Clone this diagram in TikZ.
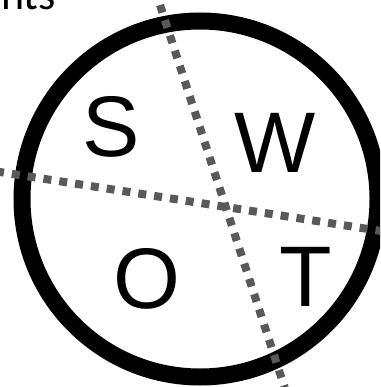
\documentclass[tikz,border=0pt]{standalone}
\usepackage{fontspec}
\setmainfont{Liberation Sans}
\newfontfamily\headfont{Carlito}
\usetikzlibrary{positioning}
\definecolor{ringcol}{gray}{0}
\definecolor{splitcol}{RGB}{89, 89, 89}

\begin{document}
\begin{tikzpicture}[x=1pt, y=-1pt,
		letter/.style={anchor=base, inner sep=0pt, font=\fontsize{86}{86}\selectfont},
		split/.style={splitcol, line width=8pt, dash pattern=on 8pt off 8pt}]
			\def\cx{200}
			\def\cy{199}
			\def\rr{178}
			
			\useasboundingbox (0, 0) rectangle (380, 387);
			\clip (0, 0) rectangle (380, 387);
			
			\node[anchor=base east, inner sep=0pt, font=\headfont\fontsize{44}{44}\selectfont] (head) at (56, 10) {nts};
			
			\draw[ringcol, line width=17pt] (\cx, \cy) circle[radius=\rr pt];
			
			\coordinate (vtop) at (160, 5);
			\coordinate (vbot) at (287, 395);
			\coordinate (hleft) at (-4, 171.4);
			\coordinate (hright) at (381, 231);
			\draw[split] (vtop) -- (vbot);
			\draw[split] (hleft) -- (hright);
			
			\node[letter] (s) at (111, 157) {S};
			\node[letter] (w) at (275, 172) {W};
			\node[letter] (o) at (147, 308) {O};
			\node[letter] (t) at (306, 306) {T};
			
		\end{tikzpicture}
\end{document}
